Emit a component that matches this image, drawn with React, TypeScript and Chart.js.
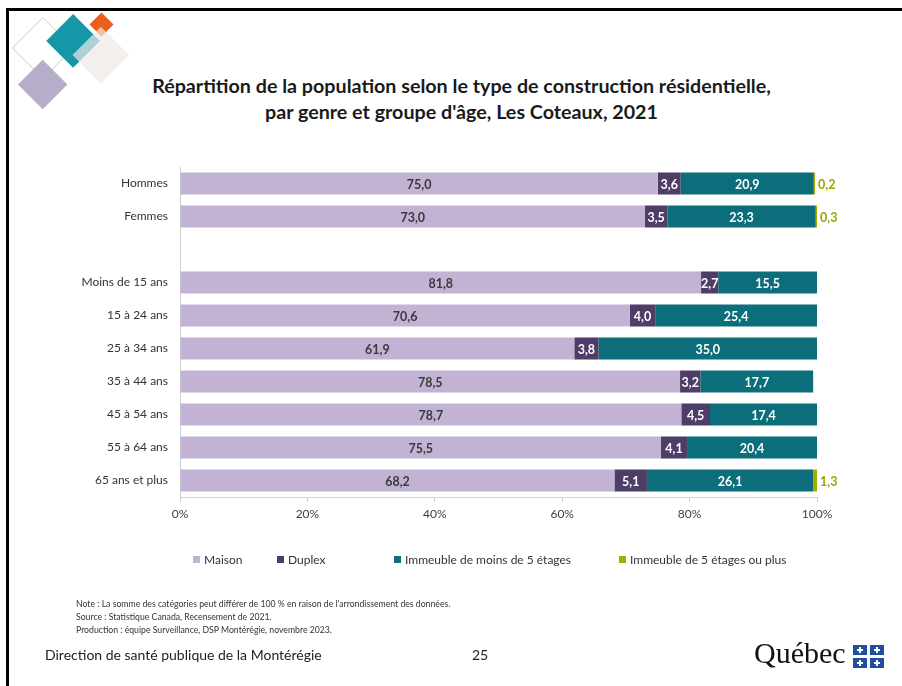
import React, { useEffect, useRef } from "react";
import { Chart, registerables } from "chart.js";

Chart.register(...registerables);

const categories = [
  "Hommes",
  "Femmes",
  "",
  "Moins de 15 ans",
  "15 à 24 ans",
  "25 à 34 ans",
  "35 à 44 ans",
  "45 à 54 ans",
  "55 à 64 ans",
  "65 ans et plus",
];
const maison = [75.0, 73.0, null, 81.8, 70.6, 61.9, 78.5, 78.7, 75.5, 68.2];
const duplex = [3.6, 3.5, null, 2.7, 4.0, 3.8, 3.2, 4.5, 4.1, 5.1];
const moins5 = [20.9, 23.3, null, 15.5, 25.4, 35.0, 17.7, 17.4, 20.4, 26.1];
const plus5 = [0.2, 0.3, null, null, null, null, null, null, null, 1.3];
const seriesNames = [
  "Maison",
  "Duplex",
  "Immeuble de moins de 5 étages",
  "Immeuble de 5 étages ou plus",
];
const xTicks = [0, 20, 40, 60, 80, 100];

const colors = ["#c2b3d4", "#4e3d66", "#0b6e7a", "#a3ad00"];
const legendX = [193, 277, 394, 619];
const FONT = "Lato, 'Open Sans', sans-serif";

const labelPlugin = {
  id: "valueLabels",
  afterDatasetsDraw(chart: any) {
    const ctx = chart.ctx;
    const area = chart.chartArea;
    chart.data.datasets.forEach((ds: any, di: number) => {
      const meta = chart.getDatasetMeta(di);
      meta.data.forEach((bar: any, i: number) => {
        const v = ds.data[i];
        if (v == null) return;
        const txt = Number(v).toFixed(1).replace(".", ",");
        ctx.save();
        ctx.font = `bold 12.5px ${FONT}`;
        ctx.textBaseline = "middle";
        if (di === 3) {
          ctx.fillStyle = "#9aa500";
          ctx.textAlign = "left";
          ctx.fillText(txt, Math.min(bar.x, area.right) + 3, bar.y + 1);
        } else {
          const right = Math.min(bar.x, area.right);
          ctx.fillStyle = di === 0 ? "#3a3a3a" : "#ffffff";
          ctx.textAlign = "center";
          ctx.fillText(txt, (bar.base + right) / 2, bar.y + 1);
        }
        ctx.restore();
      });
    });
  },
};

function ChartCanvas() {
  const ref = useRef<HTMLCanvasElement>(null);
  useEffect(() => {
    if (!ref.current) return;
    const data = [maison, duplex, moins5, plus5];
    const chart = new Chart(ref.current, {
      type: "bar",
      data: {
        labels: categories,
        datasets: data.map((d, i) => ({
          label: seriesNames[i],
          data: d,
          backgroundColor: colors[i],
          borderWidth: 0,
          barPercentage: 0.667,
          categoryPercentage: 1,
        })),
      },
      options: {
        indexAxis: "y",
        responsive: false,
        maintainAspectRatio: false,
        animation: false,
        layout: { padding: { top: 167, left: 0, right: 85, bottom: 149 } },
        plugins: {
          legend: { display: false },
          tooltip: { enabled: false },
          title: { display: false },
        },
        scales: {
          x: {
            stacked: true,
            min: 0,
            max: 100,
            afterBuildTicks: (scale: any) => {
              scale.ticks = xTicks.map((v) => ({ value: v }));
            },
            afterFit: (scale: any) => {
              scale.height = 40;
            },
            ticks: {
              callback: (v: any) => v + "%",
              color: "#404040",
              font: { family: FONT, size: 12 },
              padding: 5,
            },
            grid: {
              display: true,
              drawOnChartArea: false,
              drawTicks: true,
              tickLength: 5,
              color: "#cfcfcf",
            },
            border: { display: true, color: "#cfcfcf" },
          },
          y: {
            stacked: true,
            afterFit: (scale: any) => {
              scale.width = 180;
            },
            ticks: {
              color: "#333333",
              font: { family: FONT, size: 12 },
              padding: 12,
            },
            grid: { display: true, drawOnChartArea: false, drawTicks: false },
            border: { display: true, color: "#cfcfcf" },
          },
        },
      },
      plugins: [labelPlugin],
    });
    return () => chart.destroy();
  }, []);
  return (
    <canvas
      ref={ref}
      width={902}
      height={686}
      style={{ position: "absolute", left: 0, top: 0, width: 902, height: 686 }}
    />
  );
}

function Diamond(props: { cx: number; cy: number; d: number; bg?: string; border?: string; opacity?: number }) {
  const s = props.d * Math.SQRT2;
  return (
    <div
      style={{
        position: "absolute",
        left: props.cx - s / 2,
        top: props.cy - s / 2,
        width: s,
        height: s,
        boxSizing: "border-box",
        background: props.bg || "transparent",
        border: props.border || "none",
        opacity: props.opacity ?? 1,
        transform: "rotate(45deg)",
      }}
    />
  );
}

function Flag() {
  const cell = (x: number, y: number) => (
    <div
      key={`${x}-${y}`}
      style={{ position: "absolute", left: x, top: y, width: 14, height: 10, background: "#1f4fa0" }}
    >
      <div style={{ position: "absolute", left: 6, top: 2, width: 2, height: 6, background: "#fff" }} />
      <div style={{ position: "absolute", left: 4, top: 4, width: 6, height: 2, background: "#fff" }} />
    </div>
  );
  return (
    <div style={{ position: "absolute", left: 853, top: 645, width: 32, height: 24 }}>
      {cell(0, 0)}
      {cell(17, 0)}
      {cell(0, 13)}
      {cell(17, 13)}
    </div>
  );
}

export default function App() {
  return (
    <div
      style={{
        position: "fixed",
        left: 0,
        top: 0,
        width: 902,
        height: 686,
        background: "#ffffff",
        overflow: "hidden",
        fontFamily: FONT,
        color: "#222",
      }}
    >
      <div
        style={{
          position: "absolute",
          left: 6,
          top: 8,
          width: 920,
          height: 700,
          borderTop: "3px solid #000",
          borderLeft: "3px solid #000",
        }}
      />
      <Diamond cx={43} cy={48} d={31} border="1.5px solid #d5dcd2" />
      <Diamond cx={43} cy={85} d={25} bg="#b6adc9" />
      <Diamond cx={73} cy={41} d={27} bg="#1597a8" />
      <Diamond cx={101} cy={24} d={12} bg="#e8601c" />
      <Diamond cx={101} cy={55} d={28} bg="rgb(236,232,230)" opacity={0.7} />

      <div
        style={{
          position: "absolute",
          left: 0,
          top: 73,
          width: 923,
          textAlign: "center",
          fontWeight: "bold",
          fontSize: 19.7,
          lineHeight: "26px",
          color: "#1a1a1a",
          whiteSpace: "nowrap",
        }}
      >
        Répartition de la population selon le type de construction résidentielle,
        <br />
        par genre et groupe d'âge, Les Coteaux, 2021
      </div>

      <ChartCanvas />

      {seriesNames.map((n, i) => (
        <div
          key={n}
          style={{
            position: "absolute",
            left: legendX[i],
            top: 551,
            height: 16,
            display: "flex",
            alignItems: "center",
            fontSize: 12,
            color: "#333",
            whiteSpace: "nowrap",
          }}
        >
          <div style={{ width: 7, height: 7, background: colors[i], marginRight: 4 }} />
          {n}
        </div>
      ))}

      <div
        style={{
          position: "absolute",
          left: 76,
          top: 597,
          fontSize: 8.7,
          lineHeight: "13px",
          color: "#333",
          whiteSpace: "nowrap",
        }}
      >
        Note : La somme des catégories peut différer de 100 % en raison de l'arrondissement des données.
        <br />
        Source : Statistique Canada, Recensement de 2021.
        <br />
        Production : équipe Surveillance, DSP Montérégie, novembre 2023.
      </div>

      <div style={{ position: "absolute", left: 45, top: 646, fontSize: 14, color: "#222", whiteSpace: "nowrap" }}>
        Direction de santé publique de la Montérégie
      </div>
      <div style={{ position: "absolute", left: 472, top: 646, fontSize: 14, color: "#222" }}>25</div>

      <div
        style={{
          position: "absolute",
          left: 754,
          top: 636,
          fontFamily: "'Liberation Serif', 'DejaVu Serif', serif",
          fontSize: 30,
          color: "#111",
          whiteSpace: "nowrap",
        }}
      >
        Québec
      </div>
      <Flag />
    </div>
  );
}
